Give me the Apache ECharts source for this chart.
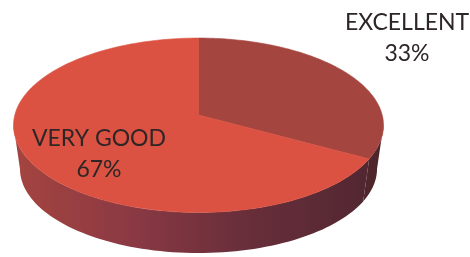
<!DOCTYPE html>
<html>
<head>
<meta charset="utf-8">
<script src="https://cdn.jsdelivr.net/npm/echarts@6/dist/echarts.min.js"></script>
<style>
html, body { margin: 0; padding: 0; background: #fff; }
#pie { width: 470px; height: 257px; }
</style>
</head>
<body>
<div id="pie"></div>
<script>
// data
var categories = ['EXCELLENT', 'VERY GOOD']
var values = [33, 67]

// look
var topColors = ['#a5453f', '#db5242']
var sideStops = [
    [[0, '#633036'], [1, '#4e252b']],
    [[0, '#a4443f'], [0.3, '#8c3a44'], [0.6, '#6a2f3b'], [1, '#4f2630']]
]
var labelPos = [[407, 38], [99, 154]]

// tilted disc: centre, radii, perspective factor, thickness, shrink of bottom face
var cx = 198.5, cy = 115, R = 183.7, S = 86, k = 0.1175, D = 44, s = 0.965
var edge = Math.asin(k)

function proj(t, low) {
    var u = Math.cos(t), v = Math.sin(t), d = 1 - k * v
    var f = low ? s : 1
    return [cx + f * R * u / d, cy + (low ? D : 0) + f * S * v / d]
}

var total = values.reduce(function (a, b) { return a + b }, 0)
var angles = []
var a0 = -Math.PI / 2
values.forEach(function (v) {
    var a1 = a0 + v / total * Math.PI * 2
    angles.push([a0, a1])
    a0 = a1
})

function sideItem(params) {
    var i = params.dataIndex
    var lo = Math.max(angles[i][0], edge)
    var hi = Math.min(angles[i][1], Math.PI - edge)
    if (hi <= lo) return null
    var pts = [], n = 80, j
    for (j = 0; j <= n; j++) pts.push(proj(lo + (hi - lo) * j / n, false))
    for (j = n; j >= 0; j--) pts.push(proj(lo + (hi - lo) * j / n, true))
    return {
        type: 'polygon',
        shape: { points: pts },
        style: {
            fill: {
                type: 'linear', x: 15, y: 0, x2: 385, y2: 0, global: true,
                colorStops: sideStops[i].map(function (c) { return { offset: c[0], color: c[1] } })
            },
            stroke: null
        }
    }
}

function topItem(params) {
    var i = params.dataIndex
    var lo = angles[i][0], hi = angles[i][1]
    var pts = [[cx, cy]], n = 160
    for (var j = 0; j <= n; j++) pts.push(proj(lo + (hi - lo) * j / n, false))
    return {
        type: 'group',
        children: [{
            type: 'polygon',
            shape: { points: pts },
            style: { fill: topColors[i], stroke: topColors[i], lineWidth: 0.6 }
        }, {
            type: 'text',
            z2: 10,
            style: {
                text: categories[i] + '\n' + Math.round(values[i] / total * 100) + '%',
                x: labelPos[i][0],
                y: labelPos[i][1],
                align: 'center',
                verticalAlign: 'middle',
                fontFamily: 'Lato',
                fontSize: 23,
                lineHeight: 31,
                fill: '#2e2626'
            }
        }]
    }
}

var chart = echarts.init(document.getElementById('pie'))
chart.setOption({
    animation: false,
    series: [{
        type: 'custom',
        coordinateSystem: 'none',
        data: values,
        renderItem: sideItem,
        z: 1
    }, {
        type: 'custom',
        coordinateSystem: 'none',
        data: values,
        renderItem: topItem,
        z: 2
    }]
})
</script>
</body>
</html>
